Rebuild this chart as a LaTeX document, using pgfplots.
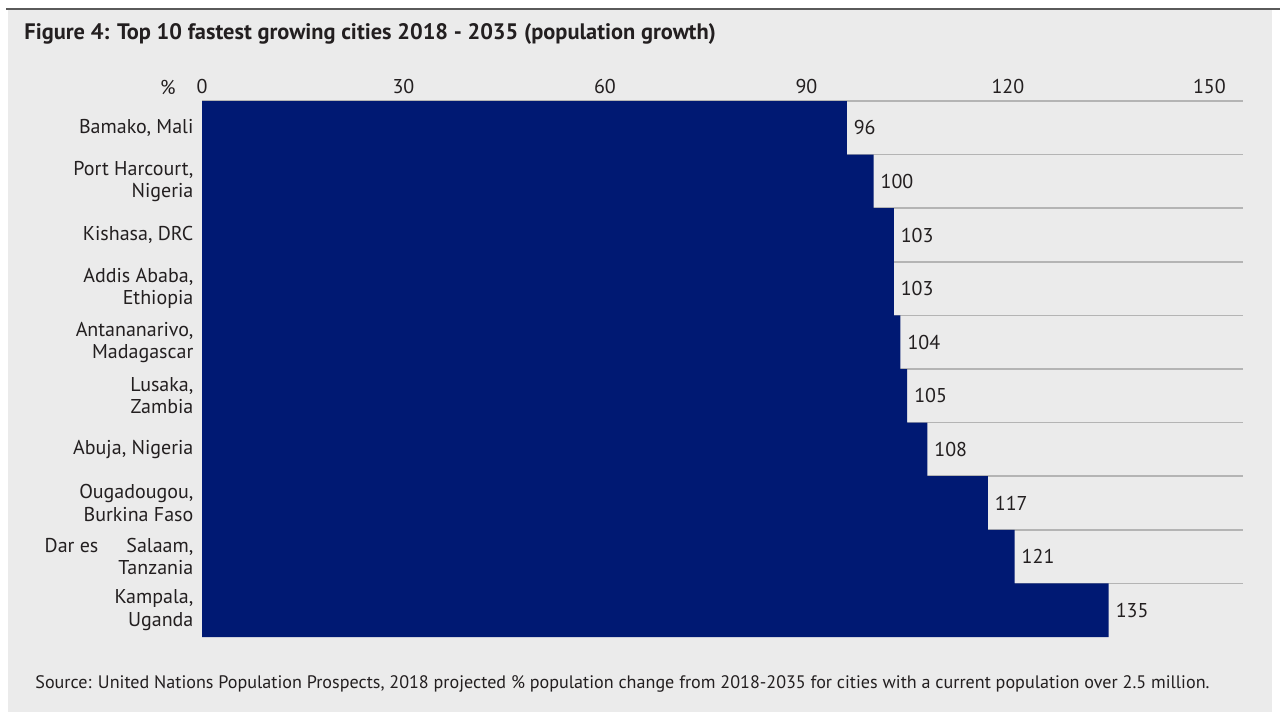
\documentclass[border=0pt]{standalone}
\usepackage{pgfplots}
\pgfplotsset{compat=1.18}
\usepackage{fontspec}
\setmainfont{PT Sans}
\definecolor{navy}{RGB}{0,25,115}
\definecolor{bg}{RGB}{235,235,235}
\definecolor{gridc}{RGB}{180,180,180}
\definecolor{txt}{RGB}{35,31,32}
\definecolor{topline}{RGB}{90,90,90}
\begin{document}
\begin{tikzpicture}[x=1pt,y=1pt]
\path[use as bounding box] (0,0) rectangle (640,360);
\fill[white] (0,0) rectangle (640,360);
\fill[bg] (4,4) rectangle (636,355);
\draw[line width=1pt, topline] (3,355.5) -- (640,355.5);
\node[anchor=base west, font=\bfseries\fontsize{11.2}{13}\selectfont, text=txt, inner sep=0] at (12,340.5) {Figure 4: Top 10 fastest growing cities 2018 - 2035 (population growth)};
\begin{axis}[at={(101pt,41.5pt)}, anchor=south west, scale only axis,
  width=520.5pt, height=268pt,
  xbar, bar width=1, bar shift=0,
  xmin=0, xmax=155, ymin=0.5, ymax=10.5, y dir=reverse,
  axis line style={draw=none}, tick style={draw=none},
  xtick={0,30,60,90,120,150}, xticklabel pos=top,
  /pgf/number format/assume math mode=true,
  ticklabel style={font=\fontsize{10}{11.2}\selectfont, text=txt},
  ytick={1,...,10},
  yticklabels={{Bamako, Mali},{Port Harcourt,\\Nigeria},{Kishasa, DRC},{Addis Ababa,\\Ethiopia},{Antananarivo,\\Madagascar},{Lusaka,\\Zambia},{Abuja, Nigeria},{Ougadougou,\\Burkina Faso},{Dar es\hspace{14pt}Salaam,\\Tanzania},{Kampala,\\Uganda}},
  yticklabel style={align=right, xshift=3.5pt},
  extra y ticks={0.5,1.5,2.5,3.5,4.5,5.5,6.5,7.5,8.5,9.5},
  extra y tick labels={},
  extra y tick style={grid=major, major grid style={gridc, line width=0.8pt}},
  nodes near coords={\pgfmathprintnumber\pgfplotspointmeta},
  every node near coord/.append style={anchor=west, font=\fontsize{10}{11}\selectfont, text=txt},
  clip=false,
]
\addplot[fill=navy, draw=none] coordinates {(96,1) (100,2) (103,3) (103,4) (104,5) (105,6) (108,7) (117,8) (121,9) (135,10)};
\end{axis}
\node[anchor=base east, font=\fontsize{10}{11}\selectfont, text=txt, inner sep=0] at (88,313) {\%};
\node[anchor=base west, font=\fontsize{9.05}{10}\selectfont, text=txt, inner sep=0] at (17.5,16) {Source: United Nations Population Prospects, 2018 projected \% population change from 2018-2035 for cities with a current population over 2.5 million.};
\end{tikzpicture}
\end{document}
